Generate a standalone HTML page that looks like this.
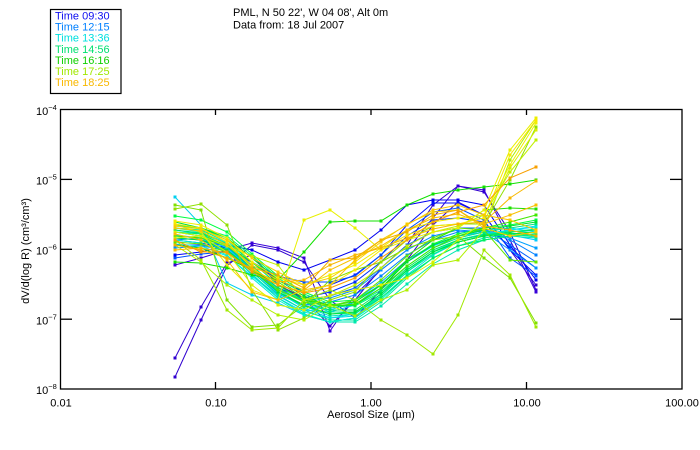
<!DOCTYPE html>
<html><head><meta charset="utf-8">
<style>
html,body{margin:0;padding:0;background:#fff;}
svg{display:block;}
text{font-family:"Liberation Sans",sans-serif;font-size:11px;fill:#000;}
.s polyline{fill:none;stroke-width:1;marker:url(#m);}
#m rect{fill:#6c6;fill:context-stroke;}
</style></head><body>
<svg width="700" height="450" viewBox="0 0 700 450" xmlns="http://www.w3.org/2000/svg">
<defs>
<marker id="m" markerWidth="4" markerHeight="4" refX="1.5" refY="1.5" markerUnits="userSpaceOnUse"><rect x="0" y="0" width="3" height="3"/></marker>
</defs>
<rect width="700" height="450" fill="#fff"/>

<!-- legend -->
<rect x="50.5" y="9.5" width="70.5" height="84" fill="none" stroke="#000" stroke-width="1.2"/>
<text x="55" y="19.5" style="fill:#1010f0">Time 09:30</text>
<text x="55" y="30.6" style="fill:#0080ff">Time 12:15</text>
<text x="55" y="41.7" style="fill:#00e0e0">Time 13:36</text>
<text x="55" y="52.8" style="fill:#00e070">Time 14:56</text>
<text x="55" y="63.9" style="fill:#10d000">Time 16:16</text>
<text x="55" y="75" style="fill:#a0e800">Time 17:25</text>
<text x="55" y="86.1" style="fill:#f8b800">Time 18:25</text>

<!-- title -->
<text x="233" y="16">PML, N 50 22', W 04 08', Alt 0m</text>
<text x="233" y="28.5">Data from: 18 Jul 2007</text>

<!-- series -->
<g class="s">
<polyline stroke="#3000d0" points="175,358 201,307 227,263 252,255 278,285 304,298 330,326 355,300 381,268 407,245 433,205 458,186 484,192 510,232 536,290"/>
<polyline stroke="#3000d0" points="175,377 201,320 227,266 252,245 278,250 304,262 330,300 355,318 381,290 407,260 433,225 458,202 484,215 510,250 536,285"/>
<polyline stroke="#3800d8" points="175,265 201,258 227,250 252,243 278,248 304,258 330,331 355,295 381,270 407,250 433,218 458,186 484,190 510,240 536,292"/>
<polyline stroke="#0000f0" points="175,255 201,252 227,245 252,250 278,262 304,270 330,260 355,250 381,230 407,205 433,200 458,200 484,205 510,245 536,280"/>
<polyline stroke="#0010ff" points="175,245 201,245 227,248 252,262 278,280 304,292 330,285 355,275 381,255 407,225 433,203 458,203 484,215 510,250 536,275"/>
<polyline stroke="#0050ff" points="175,258 201,254 227,252 252,262 278,276 304,282 330,282 355,276 381,255 407,230 433,212 458,208 484,220 510,258 536,276"/>
<polyline stroke="#0030ff" points="175,240 201,243 227,248 252,268 278,288 304,298 330,292 355,282 381,262 407,236 433,220 458,218 484,222 510,248 536,268"/>
<polyline stroke="#0060ff" points="175,238 201,240 227,247 252,268 278,290 304,300 330,296 355,288 381,268 407,245 433,232 458,228 484,228 510,245 536,262"/>
<polyline stroke="#0090ff" points="175,248 201,246 227,250 252,270 278,290 304,300 330,298 355,290 381,270 407,250 433,236 458,230 484,232 510,250 536,268"/>
<polyline stroke="#0080ff" points="175,240 201,238 227,246 252,270 278,292 304,305 330,302 355,295 381,276 407,255 433,240 458,232 484,230 510,240 536,255"/>
<polyline stroke="#00a0ff" points="175,232 201,236 227,248 252,272 278,294 304,306 330,306 355,300 381,282 407,260 433,245 458,236 484,232 510,238 536,248"/>
<polyline stroke="#00c8ff" points="175,235 201,238 227,250 252,275 278,296 304,310 330,312 355,305 381,285 407,262 433,246 458,236 484,232 510,235 536,240"/>
<polyline stroke="#00d8ff" points="175,230 201,234 227,248 252,270 278,293 304,306 330,310 355,302 381,284 407,262 433,246 458,236 484,230 510,228 536,232"/>
<polyline stroke="#00d0f0" points="175,197 201,225 227,283 252,295 278,303 304,315 330,322 355,318 381,296 407,270 433,252 458,240 484,234 510,230 536,227"/>
<polyline stroke="#00e8f0" points="175,244 201,246 227,256 252,276 278,298 304,312 330,318 355,314 381,294 407,270 433,252 458,240 484,234 510,230 536,226"/>
<polyline stroke="#00e0e0" points="175,232 201,236 227,245 252,268 278,292 304,308 330,318 355,316 381,298 407,275 433,255 458,242 484,236 510,232 536,230"/>
<polyline stroke="#00e8c0" points="175,228 201,232 227,243 252,265 278,290 304,306 330,316 355,314 381,296 407,272 433,252 458,240 484,234 510,231 536,233"/>
<polyline stroke="#00e8b0" points="175,238 201,240 227,252 252,274 278,298 304,314 330,322 355,322 381,306 407,284 433,264 458,250 484,240 510,236 536,238"/>
<polyline stroke="#00e8a0" points="175,236 201,238 227,250 252,272 278,295 304,310 330,320 355,320 381,302 407,278 433,258 458,246 484,238 510,234 536,237"/>
<polyline stroke="#00f0d0" points="175,240 201,243 227,255 252,278 278,300 304,315 330,322 355,318 381,300 407,276 433,258 458,246 484,240 510,236 536,234"/>
<polyline stroke="#00f090" points="175,228 201,230 227,242 252,262 278,285 304,302 330,312 355,312 381,296 407,272 433,254 458,242 484,236 510,232 536,229"/>
<polyline stroke="#00e880" points="175,225 201,228 227,240 252,262 278,285 304,300 330,308 355,305 381,290 407,266 433,248 458,238 484,232 510,228 536,224"/>
<polyline stroke="#00ff70" points="175,226 201,228 227,236 252,256 278,278 304,294 330,304 355,306 381,292 407,270 433,252 458,242 484,236 510,233 536,236"/>
<polyline stroke="#00e860" points="175,230 201,233 227,244 252,266 278,288 304,302 330,310 355,310 381,292 407,268 433,250 458,240 484,235 510,232 536,230"/>
<polyline stroke="#00f060" points="175,232 201,234 227,246 252,268 278,292 304,306 330,314 355,313 381,298 407,276 433,258 458,246 484,240 510,236 536,234"/>
<polyline stroke="#00e040" points="175,238 201,240 227,250 252,270 278,292 304,305 330,314 355,312 381,294 407,270 433,252 458,242 484,236 510,234 536,232"/>
<polyline stroke="#00ff40" points="175,216 201,220 227,232 252,254 278,276 304,292 330,302 355,300 381,285 407,262 433,244 458,234 484,228 510,225 536,220"/>
<polyline stroke="#00e030" points="175,222 201,228 227,238 252,258 278,280 304,296 330,306 355,305 381,288 407,262 433,245 458,236 484,230 510,226 536,222"/>
<polyline stroke="#10e000" points="175,262 201,263 227,268 252,275 278,280 304,252 330,222 355,221 381,221 407,205 433,194 458,190 484,187 510,184 536,180"/>
<polyline stroke="#20e000" points="175,245 201,248 227,258 252,270 278,285 304,300 330,305 355,302 381,285 407,260 433,240 458,228 484,210 510,208 536,209"/>
<polyline stroke="#40e800" points="175,236 201,238 227,246 252,262 278,282 304,298 330,306 355,304 381,288 407,266 433,248 458,236 484,228 510,222 536,215"/>
<polyline stroke="#60e800" points="175,242 201,244 227,252 252,270 278,290 304,302 330,306 355,300 381,280 407,256 433,238 458,228 484,230 510,260 536,262"/>
<polyline stroke="#80e000" points="175,205 201,210 227,300 252,327 278,325 304,305 330,280 355,270 381,262 407,248 433,240 458,236 484,258 510,278 536,323"/>
<polyline stroke="#90e000" points="175,209 201,204 227,225 252,290 278,330 304,318 330,300 355,292 381,262 407,240 433,226 458,224 484,224 510,180 536,127"/>
<polyline stroke="#a0e800" points="175,240 201,260 227,310 252,330 278,328 304,300 330,290 355,300 381,320 407,335 433,354 458,315 484,250 510,275 536,327"/>
<polyline stroke="#b0f000" points="175,245 201,262 227,285 252,300 278,315 304,320 330,305 355,316 381,300 407,290 433,265 458,260 484,230 510,160 536,120"/>
<polyline stroke="#c0f000" points="175,238 201,236 227,246 252,256 278,265 304,300 330,296 355,285 381,268 407,246 433,232 458,226 484,215 510,172 536,140"/>
<polyline stroke="#d8f000" points="175,232 201,236 227,252 252,285 278,305 304,310 330,295 355,290 381,285 407,278 433,262 458,240 484,222 510,168 536,130"/>
<polyline stroke="#e8f000" points="175,225 201,232 227,265 252,290 278,300 304,220 330,210 355,228 381,250 407,240 433,232 458,228 484,210 510,150 536,118"/>
<polyline stroke="#f0f000" points="175,221 201,225 227,238 252,262 278,278 304,285 330,275 355,265 381,248 407,230 433,222 458,218 484,215 510,165 536,123"/>
<polyline stroke="#f8e800" points="175,224 201,228 227,242 252,268 278,285 304,292 330,285 355,270 381,250 407,235 433,226 458,224 484,218 510,155 536,120"/>
<polyline stroke="#f8d000" points="175,226 201,229 227,240 252,258 278,272 304,285 330,278 355,262 381,242 407,224 433,212 458,210 484,228 510,236 536,232"/>
<polyline stroke="#f8c800" points="175,228 201,231 227,245 252,265 278,280 304,290 330,285 355,260 381,240 407,225 433,210 458,205 484,215 510,220 536,230"/>
<polyline stroke="#f8c000" points="175,234 201,240 227,260 252,292 278,300 304,290 330,270 355,258 381,246 407,230 433,218 458,214 484,224 510,215 536,205"/>
<polyline stroke="#f8b800" points="175,250 201,248 227,253 252,270 278,282 304,280 330,265 355,255 381,248 407,238 433,229 458,224 484,222 510,198 536,181"/>
<polyline stroke="#f0b000" points="175,245 201,250 227,258 252,268 278,275 304,288 330,260 355,258 381,240 407,232 433,215 458,210 484,226 510,230 536,236"/>
<polyline stroke="#f8a000" points="175,240 201,252 227,252 252,272 278,285 304,293 330,288 355,278 381,258 407,240 433,222 458,212 484,205 510,178 536,167"/>
</g>

<!-- axes box -->
<rect x="60.5" y="109.5" width="621.5" height="279.5" fill="none" stroke="#000" stroke-width="1.3"/>
<g stroke="#000" stroke-width="1.3">
<line x1="60" y1="179.4" x2="72" y2="179.4"/>
<line x1="60" y1="249.3" x2="72" y2="249.3"/>
<line x1="60" y1="319.2" x2="72" y2="319.2"/>
<line x1="670" y1="179.4" x2="682" y2="179.4"/>
<line x1="670" y1="249.3" x2="682" y2="249.3"/>
<line x1="670" y1="319.2" x2="682" y2="319.2"/>
<line x1="215.5" y1="389" x2="215.5" y2="382"/>
<line x1="371" y1="389" x2="371" y2="382"/>
<line x1="526.5" y1="389" x2="526.5" y2="382"/>
<line x1="215.5" y1="109.5" x2="215.5" y2="115"/>
<line x1="371" y1="109.5" x2="371" y2="115"/>
<line x1="526.5" y1="109.5" x2="526.5" y2="115"/>
</g>

<!-- y tick labels -->
<text x="36" y="115">10<tspan dy="-5" style="font-size:7.5px">−4</tspan></text>
<text x="36" y="184.5">10<tspan dy="-5" style="font-size:7.5px">−5</tspan></text>
<text x="36" y="254.5">10<tspan dy="-5" style="font-size:7.5px">−6</tspan></text>
<text x="36" y="324.5">10<tspan dy="-5" style="font-size:7.5px">−7</tspan></text>
<text x="36" y="394">10<tspan dy="-5" style="font-size:7.5px">−8</tspan></text>

<!-- x tick labels -->
<text x="61" y="406.5" text-anchor="middle">0.01</text>
<text x="216" y="406.5" text-anchor="middle">0.10</text>
<text x="371" y="406.5" text-anchor="middle">1.00</text>
<text x="527" y="406.5" text-anchor="middle">10.00</text>
<text x="682" y="406.5" text-anchor="middle">100.00</text>

<!-- axis titles -->
<text x="371" y="418" text-anchor="middle">Aerosol Size (µm)</text>
<text x="0" y="0" text-anchor="middle" transform="translate(29,251) rotate(-90)">dV/d(log R)  (cm³/cm³)</text>
</svg>
</body></html>
